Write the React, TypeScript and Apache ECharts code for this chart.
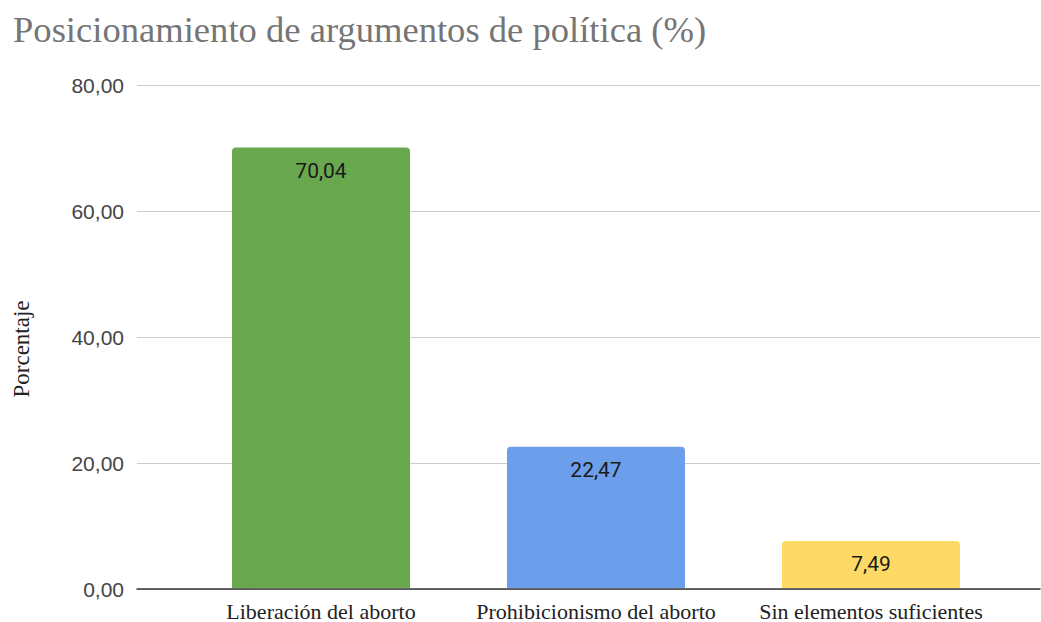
import React, { useEffect, useRef } from "react";
import * as echarts from "echarts";

const categories = ["Liberación del aborto", "Prohibicionismo del aborto", "Sin elementos suficientes"];
const values = [70.04, 22.47, 7.49];
const colors = ["#6aa84f", "#6d9eeb", "#ffd966"];
const titleText = "Posicionamiento de argumentos de política (%)";
const yName = "Porcentaje";

const fmt = (v: number) => v.toFixed(2).replace(".", ",");

export default function App() {
  const ref = useRef<HTMLDivElement>(null);
  useEffect(() => {
    document.body.style.margin = "0";
    const chart = echarts.init(ref.current!, null, { renderer: "svg" });
    chart.setOption({
      animation: false,
      backgroundColor: "#ffffff",
      title: {
        text: titleText,
        left: 8,
        top: 6,
        textStyle: { fontFamily: "Liberation Serif", fontSize: 36.6, fontWeight: "normal", color: "#757575" },
      },
      grid: [
        { left: 137, right: 1, top: 85, height: 504 },
        { left: 183.5, width: 825, top: 85, height: 504 },
      ],
      xAxis: [
        {
          gridIndex: 0,
          type: "category",
          data: categories,
          axisLine: { show: true, lineStyle: { color: "#333333", width: 1.5 } },
          axisTick: { show: false },
          axisLabel: { show: false },
        },
        {
          gridIndex: 1,
          type: "category",
          data: categories,
          axisLine: { show: false },
          axisTick: { show: false },
          axisLabel: { interval: 0, hideOverlap: false, margin: 12, fontFamily: "Liberation Serif", fontSize: 22, color: "#222222" },
        },
      ],
      yAxis: [
        {
          gridIndex: 0,
          type: "value",
          min: 0,
          max: 80,
          interval: 20,
          name: yName,
          nameLocation: "middle",
          nameGap: 104,
          nameTextStyle: { fontFamily: "Liberation Serif", fontSize: 23, color: "#222222", padding: [0, 24, 0, 0] },
          axisLine: { show: false },
          axisTick: { show: false },
          axisLabel: { margin: 13, fontFamily: "Liberation Sans", fontSize: 21, color: "#444444", formatter: (v: number) => fmt(v) },
          splitLine: { lineStyle: { color: "#cccccc", width: 1 } },
        },
        {
          gridIndex: 1,
          type: "value",
          min: 0,
          max: 80,
          interval: 20,
          show: false,
          splitLine: { show: false },
        },
      ],
      series: [
        {
          type: "bar",
          xAxisIndex: 1,
          yAxisIndex: 1,
          barWidth: 178,
          data: values.map((v, i) => ({ value: v, itemStyle: { color: colors[i], borderRadius: [4, 4, 0, 0] } })),
          label: {
            show: true,
            position: "insideTop",
            distance: 13,
            fontFamily: "Roboto",
            fontSize: 21,
            color: "#1a1a1a",
            formatter: (p: any) => fmt(p.value),
          },
        },
      ],
    });
    return () => chart.dispose();
  }, []);
  return <div ref={ref} style={{ width: 1041, height: 622 }} />;
}
